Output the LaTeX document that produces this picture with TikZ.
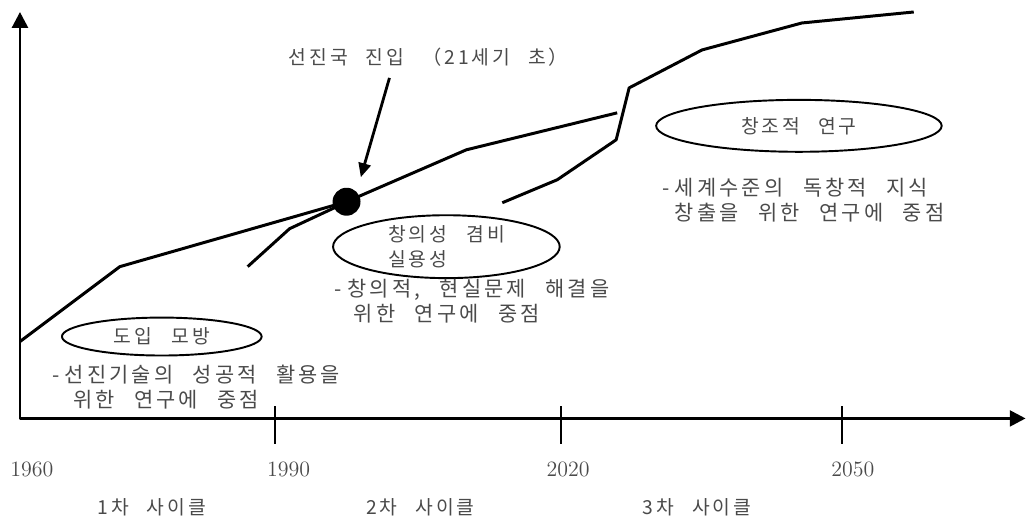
\documentclass[tikz,border=0pt]{standalone}
\usepackage{fontspec}
\newfontfamily\krfont{Noto Sans CJK KR}[WordSpace=2.5,LetterSpace=15]
\usetikzlibrary{arrows.meta,shapes.geometric}
\definecolor{txtgray}{HTML}{4A4A4A}

\begin{document}
\begin{tikzpicture}[x=0.02cm,y=-0.02cm,
                line join=round,
                kr/.style={font=\krfont\fontsize{11}{14}\selectfont,
                    text=txtgray,inner sep=0pt},
                desc/.style={kr,font=\krfont\fontsize{11.9}{14.2}\selectfont,
                    align=left,anchor=west},
                yr/.style={font=\fontsize{12.5}{14}\selectfont,
                    text=txtgray,inner sep=0pt},
                stage/.style n args={2}{ellipse,draw,line width=1.1pt,
                    minimum width=#1cm,
                    minimum height=#2cm,
                    inner sep=0pt},
                curve/.style={line width=1.7pt},
                axis/.style={line width=1.6pt,
                    {Triangle[length=9pt,width=9pt]}-{Triangle[length=9pt,width=9pt]}},
                pointer/.style={line width=1.6pt,-{Triangle[length=8pt,width=7pt]},
                    shorten >=0.3cm},
                dotmark/.style={circle,fill=black,minimum size=0.56cm,inner sep=0pt}]
                \path (0,0) rectangle (1027,525);
                \coordinate (o) at (20,419);
                \coordinate (xe) at (1027,419);
                \coordinate (ye) at (20,12);
                \draw[axis] (ye) -- (o) -- (xe);
                \foreach \x in {275,562,843}
                    \draw[line width=1.2pt] (\x,407) -- (\x,445);
                \draw[curve] (20,342) -- (120,267) -- (347,202) -- (467,150) -- (618,113);
                \draw[curve] (248,267) -- (290,229) -- (335,208);
                \draw[curve] (503,203) -- (558,180) -- (617,140) -- (630,88)
                    -- (703,50) -- (803,23) -- (915,12);
                \node[dotmark] (n001) at (347,202) {};
                \node[kr] (t001) at (429,57) {선진국 진입 （21세기 초）};
                \coordinate (a001) at (390,78);
                \draw[pointer] (a001) -- (n001.north east);
                \node[stage={4.0}{0.76},kr] (e001) at (162,337) {도입\quad 모방};
                \node[stage={4.54}{1.26},kr,align=left] (e002) at (447,247) {창의성\quad 겸비\\실용성};
                \node[stage={5.72}{1.04},kr] (e003) at (800,126) {창조적 연구};
                \node[desc] (d001) at (52,388)
                    {-\kern0.25em 선진기술의 성공적 활용을\\\hspace*{1em}위한 연구에 중점};
                \node[desc] (d002) at (335,302)
                    {-\kern0.25em 창의적, 현실문제 해결을\\\hspace*{0.9em}위한 연구에 중점};
                \node[desc] (d003) at (663,200)
                    {-\kern0.25em 세계수준의 독창적 지식\\\hspace*{0.6em}창출을 위한 연구에 중점};
                \node[yr] (y001) at (32,470) {1960};
                \node[yr] (y002) at (289,470) {1990};
                \node[yr] (y003) at (569,470) {2020};
                \node[yr] (y004) at (854,470) {2050};
                \node[kr] (k001) at (152,508) {1차 사이클};
                \node[kr] (k002) at (421,508) {2차 사이클};
                \node[kr] (k003) at (698,508) {3차 사이클};
            \end{tikzpicture}
\end{document}
